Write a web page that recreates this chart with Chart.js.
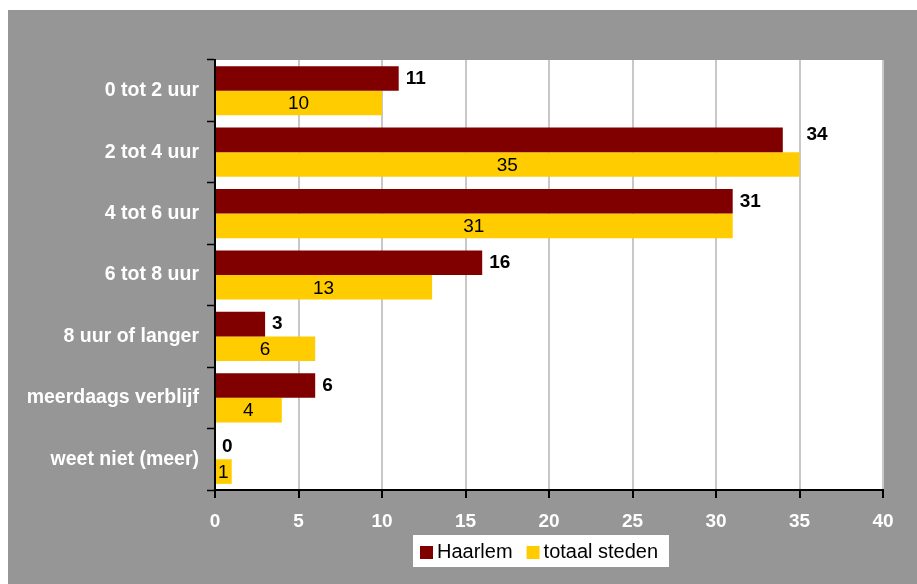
<!DOCTYPE html>
<html>
<head>
<meta charset="utf-8">
<script src="https://cdn.jsdelivr.net/npm/chart.js@4"></script>
<style>
  html, body { margin: 0; padding: 0; background: #fff; }
  canvas { display: block; }
</style>
</head>
<body>
<canvas id="chart" width="917" height="584"></canvas>
<script>
const categories = ['0 tot 2 uur', '2 tot 4 uur', '4 tot 6 uur', '6 tot 8 uur', '8 uur of langer', 'meerdaags verblijf', 'weet niet (meer)'];
const haarlem = [11, 34, 31, 16, 3, 6, 0];
const totaalSteden = [10, 35, 31, 13, 6, 4, 1];
const xTicks = [0, 5, 10, 15, 20, 25, 30, 35, 40];

const FONT = '"Liberation Sans", Arial, sans-serif';

// gray panel behind everything
const background = {
    id: 'background',
    beforeDraw(chart) {
        const ctx = chart.ctx;
        ctx.save();
        ctx.fillStyle = '#fff';
        ctx.fillRect(0, 0, chart.width, chart.height);
        ctx.fillStyle = '#969696';
        ctx.fillRect(8, 10, chart.width - 8, chart.height - 10);
        const a = chart.chartArea;
        ctx.fillStyle = '#fff';
        ctx.fillRect(a.left, a.top, a.right - a.left, a.bottom - a.top);
        ctx.restore();
    }
};

// value labels: Haarlem bold after the bar, totals centred in the bar
const valueLabels = {
    id: 'valueLabels',
    afterDatasetsDraw(chart) {
        const ctx = chart.ctx;
        const m0 = chart.getDatasetMeta(0);
        const m1 = chart.getDatasetMeta(1);
        ctx.save();
        ctx.fillStyle = '#000';
        ctx.textBaseline = 'middle';
        m0.data.forEach((bar, i) => {
            const other = m1.data[i];
            let x = bar.x;
            let y = bar.y;
            // label would run into the longer yellow bar: move it past that bar
            if (haarlem[i] > 0 && other.x > bar.x + 10 && other.x - bar.x < 25) {
                x = other.x;
                y = bar.y - 5;
            }
            ctx.font = 'bold 19px ' + FONT;
            ctx.textAlign = 'left';
            ctx.fillText(String(haarlem[i]), x + 7, y);
        });
        m1.data.forEach((bar, i) => {
            const left = chart.scales.x.getPixelForValue(0);
            ctx.font = '19px ' + FONT;
            ctx.textAlign = 'center';
            ctx.fillText(String(totaalSteden[i]), (left + bar.x) / 2, bar.y + 1);
        });
        ctx.restore();
    }
};

// legend in a white box under the axis
const boxLegend = {
    id: 'boxLegend',
    afterDraw(chart) {
        const ctx = chart.ctx;
        ctx.save();
        ctx.fillStyle = '#fff';
        ctx.fillRect(413, 535, 256, 32);
        ctx.font = '20px ' + FONT;
        ctx.textBaseline = 'middle';
        ctx.textAlign = 'left';
        let x = 420;
        chart.data.datasets.forEach(ds => {
            ctx.fillStyle = ds.backgroundColor;
            ctx.fillRect(x, 546, 13, 13);
            ctx.fillStyle = '#000';
            ctx.fillText(ds.label, x + 17, 552);
            x += 17 + ctx.measureText(ds.label).width + 14;
        });
        ctx.restore();
    }
};

new Chart(document.getElementById('chart'), {
    type: 'bar',
    data: {
        labels: categories,
        datasets: [
            { label: 'Haarlem', data: haarlem, backgroundColor: '#800000' },
            { label: 'totaal steden', data: totaalSteden, backgroundColor: '#ffcc00' }
        ]
    },
    options: {
        indexAxis: 'y',
        responsive: false,
        animation: false,
        devicePixelRatio: 1,
        categoryPercentage: 0.8,
        barPercentage: 1,
        layout: { padding: { top: 60, right: 34, left: 0, bottom: 0 } },
        plugins: {
            legend: { display: false },
            tooltip: { enabled: false }
        },
        scales: {
            x: {
                min: 0,
                max: 40,
                afterBuildTicks(scale) {
                    scale.ticks = xTicks.map(v => ({ value: v }));
                },
                afterFit(scale) { scale.height = 94; },
                grid: { color: '#c8c8c8', lineWidth: 2, tickColor: '#000', tickLength: 8, tickWidth: 2 },
                border: { color: '#000', width: 2 },
                ticks: { color: '#fff', font: { family: FONT, size: 19, weight: 'bold' }, padding: 12 }
            },
            y: {
                afterFit(scale) { scale.width = 215; },
                grid: { drawOnChartArea: false, tickColor: '#000', tickLength: 8, tickWidth: 1.5 },
                border: { color: '#000', width: 2 },
                ticks: { color: '#fff', font: { family: FONT, size: 19.5, weight: 'bold' }, padding: 8 }
            }
        }
    },
    plugins: [background, valueLabels, boxLegend]
});
</script>
</body>
</html>
